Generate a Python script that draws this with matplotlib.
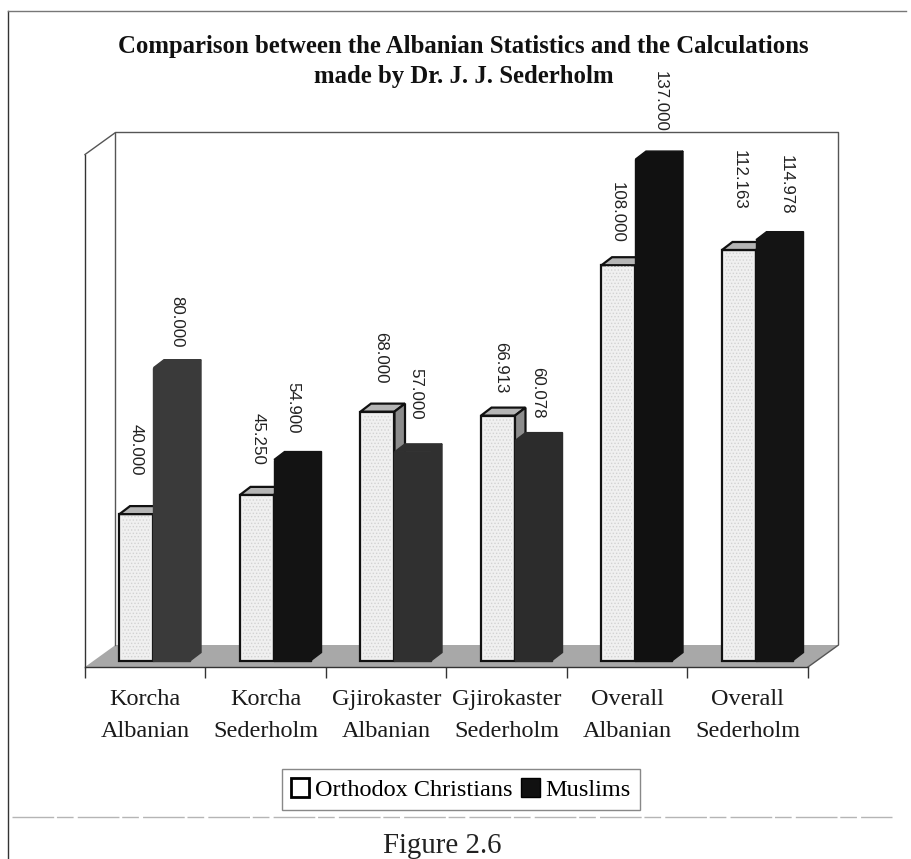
import matplotlib
matplotlib.use('Agg')
import matplotlib.pyplot as plt
from matplotlib.patches import Polygon, Patch
from matplotlib.lines import Line2D

categories = ['Korcha\nAlbanian', 'Korcha\nSederholm', 'Gjirokaster\nAlbanian',
              'Gjirokaster\nSederholm', 'Overall\nAlbanian', 'Overall\nSederholm']
orthodox = [40.000, 45.250, 68.000, 66.913, 108.000, 112.163]
muslims = [80.000, 54.900, 57.000, 60.078, 137.000, 114.978]
orthodox_labels = ['40.000', '45.250', '68.000', '66.913', '108.000', '112.163']
muslim_labels = ['80.000', '54.900', '57.000', '60.078', '137.000', '114.978']
muslim_colors = ['#3a3a3a', '#131313', '#303030', '#2c2c2c', '#111111', '#141414']

# hand placed data labels: pixels above the bar, pixels from bar left
gap_orthodox = [39, 30, 28, 22, 22, 40]
gap_muslims = [20, 26, 32, 22, 27, 25]
shift_orthodox = [17, 18, 20, 20, 16, 17]
shift_muslims = [23, 19, 21, 23, 25, 30]

W, H = 912, 859
px_x = 120.5        # pixels per category
px_y = 3.66         # pixels per unit
serif = 'Liberation Serif'
plt.rcParams['hatch.linewidth'] = 0.6

fig = plt.figure(figsize=(W / 100, H / 100), dpi=100)
ax = fig.add_axes([85 / W, 1 - 667 / H, 723 / W, (667 - 132.5) / H])
ax.set_xlim(0, 6)
ax.set_ylim((660.5 - 667) / px_y, (660.5 - 132.5) / px_y)
ax.patch.set_alpha(0)
for s in ['top', 'right']:
    ax.spines[s].set_visible(False)
for s in ['left', 'bottom']:
    ax.spines[s].set_linewidth(1.0)
    ax.spines[s].set_color('#333333')
ax.spines['left'].set_bounds(ax.get_ylim()[0], (660.5 - 155) / px_y)

# walls and floor, in category / value units
dx = 30.5 / px_x
dy = 22 / px_y
y0, y1 = ax.get_ylim()
ax.add_patch(Polygon([(0, y0), (dx, y0 + dy), (6 + dx, y0 + dy), (6, y0)], closed=True,
                     fc='#a8a8a8', ec='none', clip_on=False, zorder=1))
ax.plot([0, dx, 6 + dx, 6 + dx, 6], [y1 - 22 / px_y, y1, y1, y0 + dy, y0], color='#555555',
        lw=1.0, clip_on=False, zorder=1)
ax.plot([dx, dx], [y0 + dy, y1], color='#555555', lw=1.0, clip_on=False, zorder=1)

ax.set_xticks(range(7))
ax.set_xticklabels([])
ax.tick_params(axis='x', length=8, width=1, color='#333333')
ax.set_yticks([])
for i, c in enumerate(categories):
    ax.text(i + 0.5, y0 - 22 / px_y, c, ha='center', va='top', family=serif, fontsize=17.5,
            linespacing=1.68, color='#1a1a1a')


def bar3d(left, width, value, front, top, side, edge, lw, z):
    ddx = 10.5 / px_x
    ddy = 8 / px_y
    ax.bar(left, value, width, align='edge', color=front, edgecolor=edge, linewidth=lw, zorder=z)
    ax.add_patch(Polygon([(left, value), (left + ddx, value + ddy),
                          (left + width + ddx, value + ddy), (left + width, value)],
                         closed=True, fc=top, ec=edge, lw=lw, zorder=z))
    ax.add_patch(Polygon([(left + width, 0), (left + width + ddx, ddy),
                          (left + width + ddx, value + ddy), (left + width, value)],
                         closed=True, fc=side, ec=edge, lw=lw, zorder=z))


w1 = 34 / px_x
w2 = 37 / px_x
for i in range(6):
    left1 = i + 34.5 / px_x
    left2 = left1 + w1
    bar3d(left1, w1, orthodox[i], '#f0f0f0', '#b5b5b5', '#8c8c8c', '#111111', 1.6, 3)
    # grainy fill of the light bars
    ax.bar(left1 + 3 / px_x, orthodox[i] - 2 / px_y, w1 - 6 / px_x, bottom=1 / px_y, align='edge',
           facecolor='none', edgecolor='#d2d2d2', hatch='.....', linewidth=0, zorder=3)
    bar3d(left2, w2, muslims[i], muslim_colors[i], muslim_colors[i], muslim_colors[i],
          muslim_colors[i], 1.0, 4)
    ax.text(left1 + shift_orthodox[i] / px_x, orthodox[i] + gap_orthodox[i] / px_y,
            orthodox_labels[i], rotation=-90, ha='center', va='bottom', fontsize=12.2,
            family='Liberation Sans', color='#222222', clip_on=False, zorder=5)
    ax.text(left2 + shift_muslims[i] / px_x, muslims[i] + gap_muslims[i] / px_y,
            muslim_labels[i], rotation=-90, ha='center', va='bottom', fontsize=12.2,
            family='Liberation Sans', color='#222222', clip_on=False, zorder=5)

fig.text(463 / W, 1 - 47 / H, 'Comparison between the Albanian Statistics and the Calculations',
         ha='center', va='center', family=serif, weight='bold', fontsize=17.8, color='#111111')
fig.text(464 / W, 1 - 77 / H, 'made by Dr. J. J. Sederholm',
         ha='center', va='center', family=serif, weight='bold', fontsize=17.8, color='#111111')

handles = [Patch(fc='white', ec='black', lw=2, label='Orthodox Christians'),
           Patch(fc='#111111', ec='black', label='Muslims')]
leg = fig.legend(handles=handles, loc='center', bbox_to_anchor=(461 / W, 1 - 789.5 / H), ncol=2,
                 prop={'family': serif, 'size': 17.5}, fancybox=False, edgecolor='#888888',
                 handlelength=0.75, handleheight=0.8, handletextpad=0.25, columnspacing=0.35,
                 borderpad=0.36, borderaxespad=0, framealpha=1)

# page frame around the chart
fig.add_artist(Line2D([8 / W, 8 / W], [0, 1 - 10.5 / H], color='#333333', lw=1.0))
fig.add_artist(Line2D([8 / W, 906 / W], [1 - 10.5 / H, 1 - 10.5 / H], color='#777777', lw=1.0))
fig.add_artist(Line2D([12 / W, 892 / W], [1 - 817 / H, 1 - 817 / H], color='#b5b5b5', lw=1.0,
                      ls=(0, (30, 2, 12, 3))))

fig.text(442 / W, 1 - 846 / H, 'Figure 2.6', ha='center', va='center', family=serif,
         fontsize=20.8, color='#222222')

fig.savefig('out.png', dpi=100)
